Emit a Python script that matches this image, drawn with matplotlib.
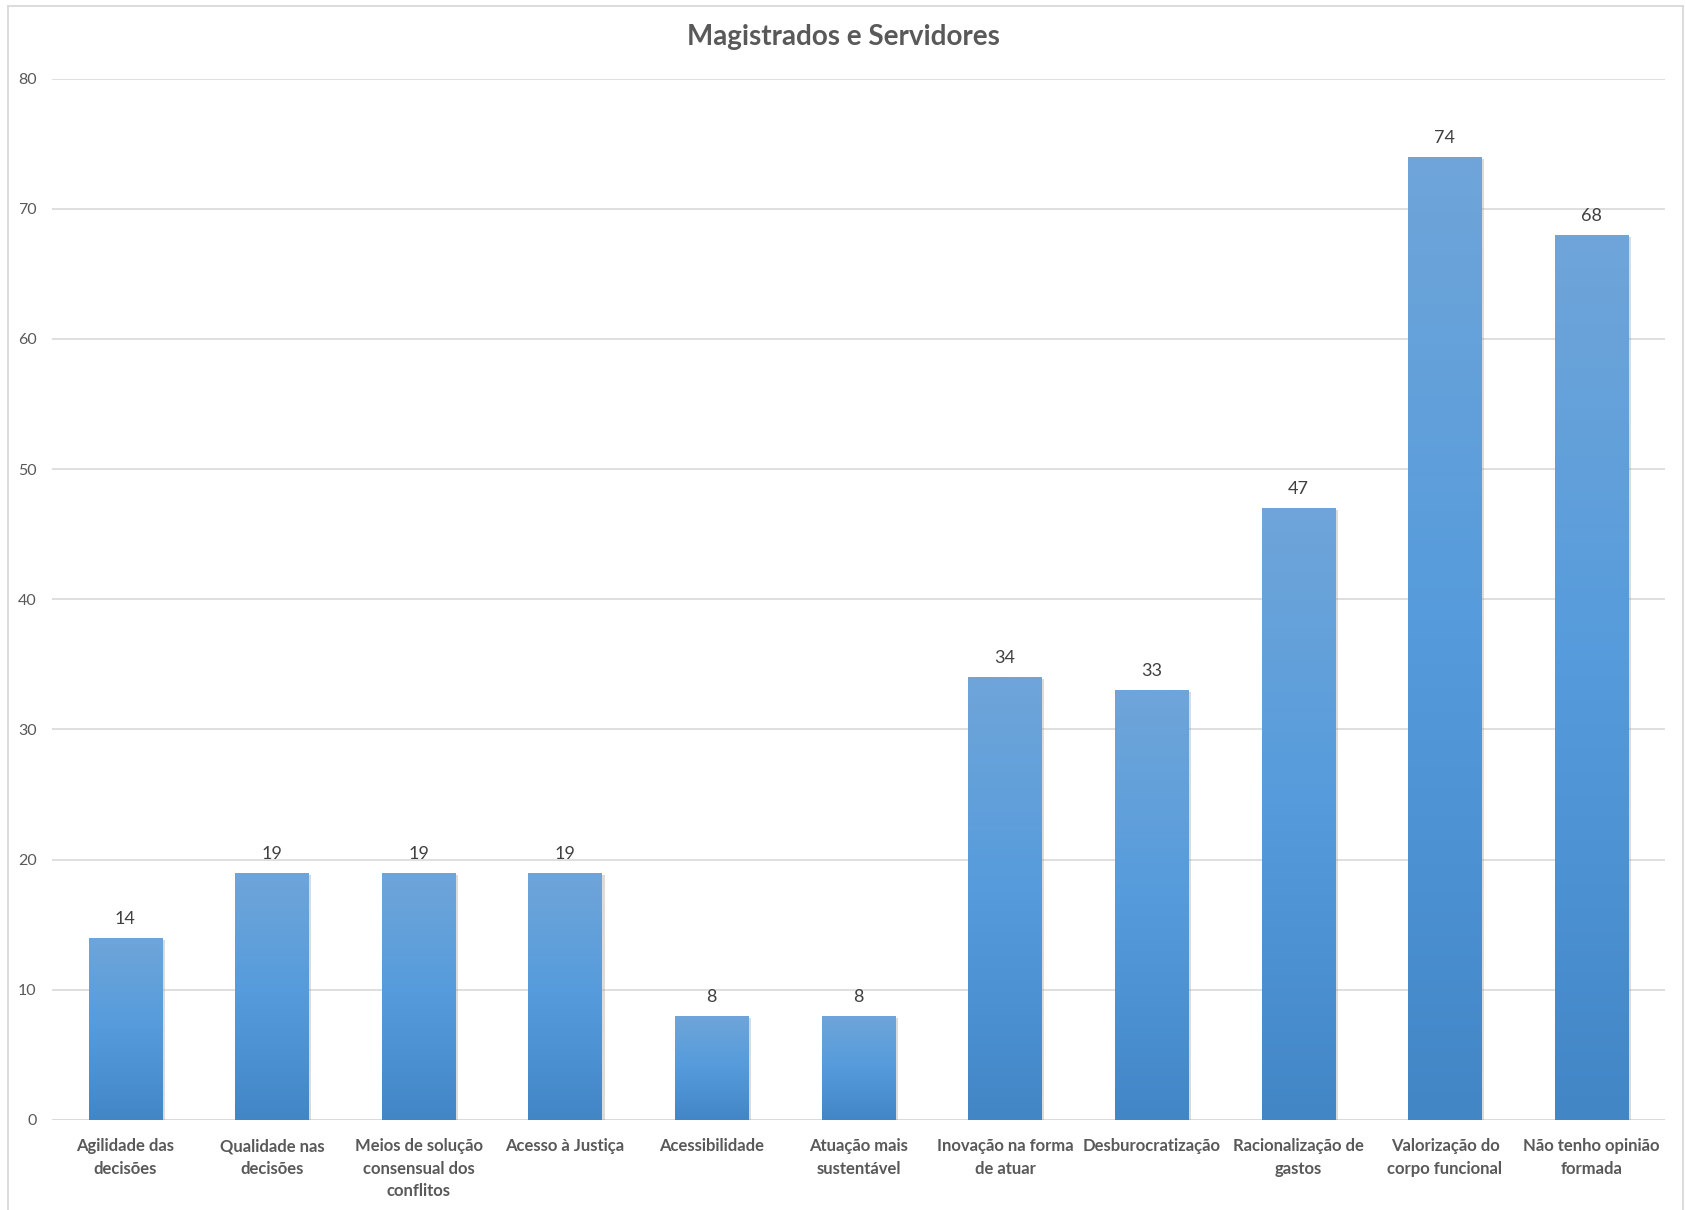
import matplotlib.pyplot as plt
import matplotlib.patheffects as pe
import numpy as np
from matplotlib.colors import LinearSegmentedColormap
from matplotlib.lines import Line2D

categorias = [
    "Agilidade das\ndecisões",
    "Qualidade nas\ndecisões",
    "Meios de solução\nconsensual dos\nconflitos",
    "Acesso à Justiça",
    "Acessibilidade",
    "Atuação mais\nsustentável",
    "Inovação na forma\nde atuar",
    "Desburocratização",
    "Racionalização de\ngastos",
    "Valorização do\ncorpo funcional",
    "Não tenho opinião\nformada",
]
respostas = [14, 19, 19, 19, 8, 8, 34, 33, 47, 74, 68]
yticks = [0, 10, 20, 30, 40, 50, 60, 70, 80]
titulo = "Magistrados e Servidores"

plt.rcParams['font.family'] = ['Lato', 'DejaVu Sans']

fig = plt.figure(figsize=(16.86, 12.10), dpi=100)
ax = fig.add_axes([0.0308, 0.0744, 0.9567, 0.8607])

# degradê vertical no estilo do Excel: claro no topo, mais escuro na base
grad = LinearSegmentedColormap.from_list(
    "barra", ["#4286C6", "#559BDC", "#6FA5D9"])
gradiente = np.linspace(0, 1, 256).reshape(-1, 1)

x = np.arange(len(categorias))
barras = ax.bar(x, respostas, width=0.5, color="#5B9BD5", zorder=2,
                edgecolor="none")
for b in barras:
    b.set_path_effects([pe.SimplePatchShadow(offset=(2, -1.5),
                                             shadow_rgbFace="#9a9a9a",
                                             alpha=0.35),
                        pe.Normal()])
    x0, y0 = b.get_x(), b.get_y()
    w, h = b.get_width(), b.get_height()
    im = ax.imshow(gradiente, cmap=grad, origin="lower", aspect="auto",
                   extent=(x0, x0 + w, y0, y0 + h), zorder=3)
    im.set_clip_path(b)

ax.bar_label(barras, labels=[str(v) for v in respostas], padding=8,
             fontsize=13, color="#404040")

ax.set_xlim(-0.5, len(categorias) - 0.5)
ax.set_ylim(0, 80)
ax.set_yticks(yticks)
ax.set_xticks(x)
ax.set_xticklabels(categorias, fontsize=12, fontweight="bold",
                   color="#595959", linespacing=1.5)
ax.tick_params(axis="y", length=0, pad=11, labelsize=11.5,
               labelcolor="#595959")
ax.tick_params(axis="x", length=0, pad=13)

ax.grid(axis="y", color="#D9D9D9", linewidth=1.2, zorder=0)
for s in ax.spines.values():
    s.set_visible(False)
ax.axhline(0, color="#D9D9D9", linewidth=1.2, zorder=1)

fig.suptitle(titulo, x=0.5, y=0.9698, va="center", fontsize=20,
             fontweight="bold", color="#595959")

# moldura da área do gráfico
W, H = 1686, 1210
moldura = dict(color="#D9D9D9", linewidth=1.3, transform=fig.transFigure)
fig.add_artist(Line2D([8 / W, 8 / W], [0, 1 - 6 / H], **moldura))
fig.add_artist(Line2D([8 / W, 1683 / W], [1 - 6 / H, 1 - 6 / H], **moldura))
fig.add_artist(Line2D([1683 / W, 1683 / W], [0, 1 - 6 / H], **moldura))

fig.savefig("out.png", dpi=100)
